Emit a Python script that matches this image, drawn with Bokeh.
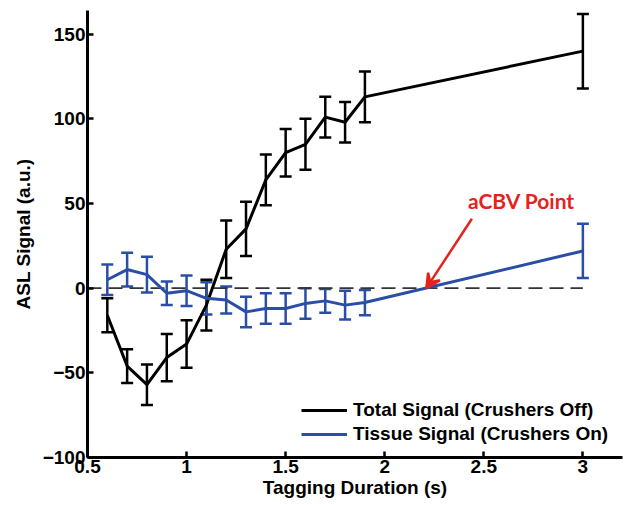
from bokeh.plotting import figure
from bokeh.models import ColumnDataSource, Whisker, TeeHead, Arrow, VeeHead, Legend, LegendItem, FixedTicker, Range1d
from bokeh.core.properties import value
from bokeh.embed import file_html
from bokeh.resources import INLINE

# Tagging durations (s)
durations = [0.6, 0.7, 0.8, 0.9, 1.0, 1.1, 1.2, 1.3, 1.4, 1.5, 1.6, 1.7, 1.8, 1.9, 3.0]

# Total signal, crushers off (mean and error)
total_mean = [-16, -46, -57, -41, -33, -10, 23, 35, 64, 80, 85, 101, 98, 113, 140]
total_err = [10, 10, 12, 14, 14, 15, 17, 16, 15, 14, 15, 12, 12, 15, 22]

# Tissue signal, crushers on (mean and error)
tissue_mean = [5, 11, 8, -3, -1.5, -6, -7, -14, -12, -12, -9, -7.5, -10, -8.5, 22]
tissue_err = [9, 10, 10.5, 7, 9, 9.5, 8, 9, 9, 9, 9, 7, 8.5, 7.5, 16]

x_ticks = [0.5, 1, 1.5, 2, 2.5, 3]
x_tick_labels = ["0.5", "1", "1.5", "2", "2.5", "3"]
y_ticks = [-100, -50, 0, 50, 100, 150]
y_tick_labels = ["\u2212100", "\u221250", "0", "50", "100", "150"]

# aCBV annotation: label position, arrow tail and the zero crossing of the tissue curve
acbv_label = "aCBV Point"
acbv_text_xy = (2.69, 52)
acbv_tail_xy = (2.44, 41)
acbv_head_xy = (2.21, 0)

BLACK = "#000000"
BLUE = "#2a4ea6"
RED = "#e5231c"
FONT = "Liberation Sans"
FS = "19px"

p = figure(width=624, height=505, output_backend="svg", toolbar_location=None,
           x_range=Range1d(0.5, 3.2), y_range=Range1d(-100, 164),
           min_border_left=87, min_border_right=2, min_border_top=10, min_border_bottom=48)
p.outline_line_color = None
p.xgrid.visible = False
p.ygrid.visible = False
p.background_fill_color = "white"
p.border_fill_color = "white"

# zero reference line
p.line(x=[0.5, 3.0], y=[0, 0], line_color="#333333", line_width=1.8, line_dash="14 7")


def series(means, errs, color):
    src = ColumnDataSource(dict(
        x=durations, y=means,
        lo=[m - e for m, e in zip(means, errs)],
        hi=[m + e for m, e in zip(means, errs)],
    ))
    r = p.line("x", "y", source=src, line_color=color, line_width=3)
    w = Whisker(source=src, base="x", lower="lo", upper="hi", dimension="height",
                line_color=color, line_width=2.5,
                lower_head=TeeHead(size=12, line_color=color, line_width=2.5),
                upper_head=TeeHead(size=12, line_color=color, line_width=2.5))
    p.add_layout(w)
    return r


r_total = series(total_mean, total_err, BLACK)
r_tissue = series(tissue_mean, tissue_err, BLUE)

# arrow pointing at the aCBV point
p.add_layout(Arrow(x_start=acbv_tail_xy[0], y_start=acbv_tail_xy[1],
                   x_end=acbv_head_xy[0], y_end=acbv_head_xy[1],
                   line_color=RED, line_width=2.5,
                   end=VeeHead(size=14, line_color=RED, line_width=2.5, fill_color=RED)))
p.text(x=[acbv_text_xy[0]], y=[acbv_text_xy[1]], text=[acbv_label],
       text_color=RED, text_font=value("Lato"), text_font_style="bold",
       text_font_size="21px", text_align="center", text_baseline="middle")

# axes
for ax in (p.xaxis, p.yaxis):
    ax.axis_line_width = 3
    ax.axis_line_color = BLACK
    ax.major_tick_line_width = 2.5
    ax.major_tick_line_color = BLACK
    ax.major_tick_in = 6
    ax.major_tick_out = 0
    ax.minor_tick_line_color = None
    ax.major_label_text_font = FONT
    ax.major_label_text_font_style = "bold"
    ax.major_label_text_font_size = FS
    ax.major_label_text_color = BLACK
    ax.axis_label_text_font = FONT
    ax.axis_label_text_font_style = "bold"
    ax.axis_label_text_font_size = FS
    ax.axis_label_text_color = BLACK

p.xaxis.ticker = FixedTicker(ticks=x_ticks)
p.xaxis.major_label_overrides = {t: s for t, s in zip(x_ticks, x_tick_labels)}
p.xaxis.axis_label = "Tagging Duration (s)"
p.xaxis.major_label_standoff = 2
p.xaxis.axis_label_standoff = 1

p.yaxis.ticker = FixedTicker(ticks=y_ticks)
p.yaxis.major_label_overrides = {t: s for t, s in zip(y_ticks, y_tick_labels)}
p.yaxis.axis_label = "ASL Signal (a.u.)"
p.yaxis.major_label_standoff = 2
p.yaxis.axis_label_standoff = 6

legend = Legend(items=[
    LegendItem(label="Total Signal (Crushers Off)", renderers=[r_total]),
    LegendItem(label="Tissue Signal (Crushers On)", renderers=[r_tissue]),
], location=(214, 12), orientation="vertical",
    label_text_font=FONT, label_text_font_style="bold", label_text_font_size=FS,
    label_text_color=BLACK, glyph_width=46, glyph_height=20, label_height=20,
    label_standoff=6, spacing=2, padding=2, margin=0,
    border_line_color=None, background_fill_alpha=0)
p.add_layout(legend)

open("out.html", "w").write(file_html(p, INLINE))
